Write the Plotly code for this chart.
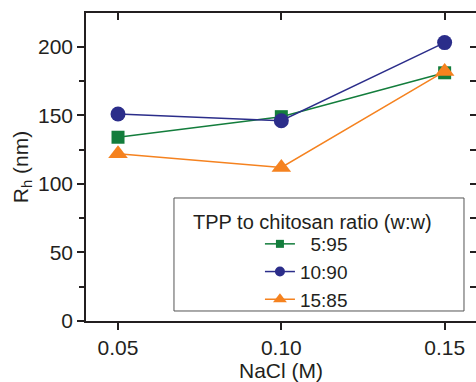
import plotly.graph_objects as go

# Data
nacl = [0.05, 0.10, 0.15]
r_5_95 = [134, 149, 181]
r_10_90 = [151, 146, 203]
r_15_85 = [122, 112, 182]
series_names = ["\u00a0\u00a05:95", "10:90", "15:85"]
x_ticks = [0.05, 0.10, 0.15]
x_ticktext = ["0.05", "0.10", "0.15"]
y_ticks = [0, 50, 100, 150, 200]
legend_title = "TPP to chitosan ratio (w:w)"

colors = ["#137d3c", "#2b2d8a", "#f5821f"]
symbols = ["square", "circle", "triangle-up"]
sizes = [13, 15, 17]
legend_sizes = [8, 10, 12]
series = [r_5_95, r_10_90, r_15_85]

FONT = "Liberation Sans, Arial, sans-serif"
INK = "#231f20"

fig = go.Figure()
for vals, c, s, sz in zip(series, colors, symbols, sizes):
    fig.add_trace(go.Scatter(x=nacl, y=vals, mode="lines+markers",
                             line=dict(color=c, width=1.5),
                             marker=dict(symbol=s, size=sz, color=c),
                             showlegend=False, cliponaxis=False))
for name, c, s, sz in zip(series_names, colors, symbols, legend_sizes):
    fig.add_trace(go.Scatter(x=[None], y=[None], mode="lines+markers", name=name,
                             line=dict(color=c, width=1.5),
                             marker=dict(symbol=s, size=sz, color=c),
                             xaxis="x2", yaxis="y2"))

xr = [0.0402, 0.1596]
yr = [0, 224.6]

fig.update_layout(
    width=476, height=382,
    margin=dict(l=86, r=0, t=13, b=61),
    paper_bgcolor="white", plot_bgcolor="white",
    font=dict(family=FONT, size=21, color=INK),
    xaxis=dict(range=xr, tickvals=x_ticks, ticktext=x_ticktext,
               showline=True, linecolor=INK, linewidth=1.5,
               ticks="outside", ticklen=7, tickwidth=1.5, tickcolor=INK,
               showgrid=False, zeroline=False,
               title=dict(text="NaCl (M)", font=dict(size=21), standoff=4)),
    yaxis=dict(range=yr, tickvals=y_ticks,
               showline=True, linecolor=INK, linewidth=1.5,
               ticks="outside", ticklen=7, tickwidth=1.5, tickcolor=INK,
               minor=dict(tickvals=[25, 75, 125, 175], ticks="outside", ticklen=5,
                          tickwidth=1.5, tickcolor=INK),
               showgrid=False, zeroline=False,
               title=dict(text="R<sub>h</sub> (nm)", font=dict(size=21), standoff=4)),
    xaxis2=dict(range=xr, overlaying="x", side="top", anchor="y2",
                tickvals=x_ticks, showticklabels=False,
                showline=True, linecolor=INK, linewidth=1.5,
                ticks="inside", ticklen=7, tickwidth=1.5, tickcolor=INK,
                showgrid=False, zeroline=False),
    yaxis2=dict(range=yr, overlaying="y", side="right", anchor="x2",
                tickvals=[25, 50, 75, 100, 125, 150, 175, 200], showticklabels=False,
                showline=False,
                ticks="inside", ticklen=6, tickwidth=1.5, tickcolor=INK,
                showgrid=False, zeroline=False),
    legend=dict(x=0.446, y=0.3117, xanchor="left", yanchor="top",
                bgcolor="rgba(0,0,0,0)", borderwidth=0,
                font=dict(family=FONT, size=19, color=INK),
                itemsizing="trace"),
    showlegend=True,
)

# legend frame and title
fig.add_shape(type="rect", xref="paper", yref="paper",
              x0=0.2256, x1=0.9692, y0=0.0325, y1=0.3994,
              line=dict(color="#555555", width=1), fillcolor="white", layer="below")
fig.add_annotation(text=legend_title, xref="paper", yref="paper",
                   x=0.2685, y=0.322, xanchor="left", yanchor="middle",
                   showarrow=False, font=dict(family=FONT, size=20, color=INK))

fig.write_html("out.html")
